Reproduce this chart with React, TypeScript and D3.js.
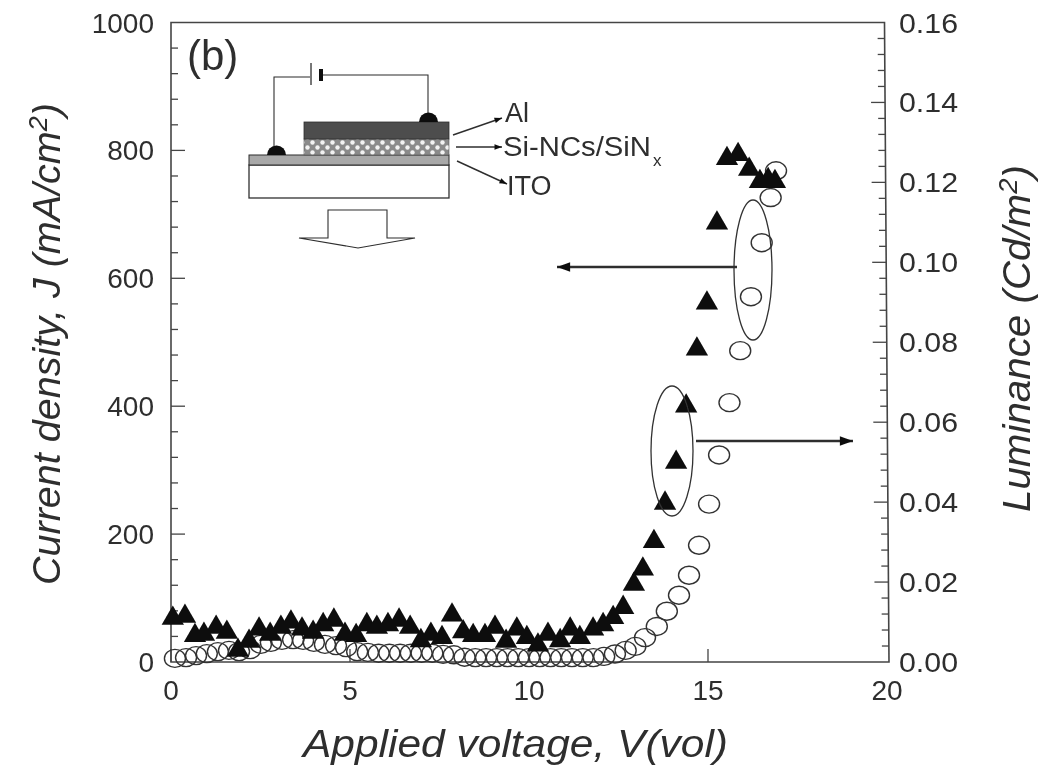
import React from 'react'
import * as d3 from 'd3'

// current density J (triangles)
const triVolt = [0.05, 0.39, 0.67, 0.92, 1.26, 1.56, 1.87, 2.18, 2.46, 2.77, 3.07, 3.35, 3.66, 3.97, 4.25, 4.55, 4.86, 5.17, 5.47, 5.75, 6.06, 6.37, 6.68, 6.98, 7.26, 7.57, 7.85, 8.16, 8.44, 8.77, 9.05, 9.36, 9.66, 9.94, 10.25, 10.53, 10.87, 11.15, 11.42, 11.79, 12.07, 12.35, 12.63, 12.93, 13.18, 13.49, 13.8, 14.11, 14.39, 14.69, 14.97, 15.25, 15.53, 15.84, 16.15, 16.45, 16.68, 16.87]
const triJ = [73, 76, 46, 48, 59, 51, 23, 37, 56, 48, 59, 67, 56, 51, 63, 70, 48, 46, 63, 59, 63, 70, 59, 38, 48, 43, 78, 52, 46, 46, 59, 37, 56, 43, 31, 48, 38, 56, 43, 56, 63, 74, 90, 126, 150, 193, 253, 317, 405, 494, 566, 691, 792, 798, 775, 756, 759, 756]

// luminance (open circles)
const circVolt = [0.11, 0.42, 0.7, 1.0, 1.31, 1.62, 1.9, 2.21, 2.51, 2.79, 3.1, 3.41, 3.69, 3.99, 4.3, 4.61, 4.89, 5.2, 5.5, 5.8, 6.1, 6.4, 6.7, 7.0, 7.3, 7.6, 7.9, 8.2, 8.5, 8.8, 9.1, 9.4, 9.7, 10.0, 10.3, 10.6, 10.9, 11.2, 11.5, 11.8, 12.1, 12.4, 12.7, 12.97, 13.24, 13.57, 13.85, 14.19, 14.47, 14.75, 15.03, 15.31, 15.6, 15.9, 16.2, 16.5, 16.75, 16.9]
const circL = [0.0009, 0.0011, 0.0016, 0.0021, 0.0026, 0.0029, 0.0026, 0.0031, 0.0044, 0.0049, 0.0054, 0.0056, 0.0054, 0.0049, 0.0044, 0.0041, 0.0036, 0.0026, 0.0024, 0.0022, 0.0022, 0.0022, 0.0022, 0.0022, 0.0022, 0.0019, 0.0018, 0.0012, 0.0011, 0.0011, 0.0011, 0.0011, 0.0011, 0.0011, 0.0011, 0.0011, 0.0011, 0.0011, 0.0011, 0.0011, 0.0014, 0.002, 0.0029, 0.0039, 0.0061, 0.0089, 0.0127, 0.0167, 0.0217, 0.0292, 0.0395, 0.0518, 0.0649, 0.0779, 0.0914, 0.1049, 0.1162, 0.1229]

const xTicks = [0, 5, 10, 15, 20]
const jTicks = [0, 200, 400, 600, 800, 1000]
const lumTicks = [0, 0.02, 0.04, 0.06, 0.08, 0.1, 0.12, 0.14, 0.16]

const width = 1040
const height = 768
const left = 171
const right = 887
const top = 22.5
const bottom = 662

const x = d3.scaleLinear().domain([0, 20]).range([left, right])
const yJ = d3.scaleLinear().domain([0, 1000]).range([bottom, top])
const yL = d3.scaleLinear().domain([0, 0.16]).range([bottom, top])

// the scanned page is a little skewed, right axis leans outwards to the bottom
const rightX = (py: number) => 884.5 + ((py - top) / (bottom - top)) * 4.5

const ink = '#2e2e2e'
const sans = '"Liberation Sans", Arial, sans-serif'
const triPath = d3.symbol(d3.symbolTriangle, 215)()

function Arrow({ x1, y1, x2, y2, w = 1.4, head = 8 }: any) {
  const a = Math.atan2(y2 - y1, x2 - x1)
  const pts = [
    [x2, y2],
    [x2 - head * Math.cos(a - 0.35), y2 - head * Math.sin(a - 0.35)],
    [x2 - head * Math.cos(a + 0.35), y2 - head * Math.sin(a + 0.35)],
  ]
  return (
    <g>
      <line x1={x1} y1={y1} x2={x2} y2={y2} stroke={ink} strokeWidth={w} />
      <polygon points={pts.join(' ')} fill="#111" />
    </g>
  )
}

function Inset() {
  return (
    <g fontFamily={sans} fill={ink}>
      <defs>
        <pattern id="hatch" width="10" height="10" patternUnits="userSpaceOnUse">
          <rect width="10" height="10" fill="#8a8a8a" />
          <circle cx="2.5" cy="2.5" r="2.2" fill="#f2f2f2" />
          <circle cx="7.5" cy="7.5" r="2.2" fill="#f2f2f2" />
        </pattern>
      </defs>
      <rect x="249" y="165" width="200" height="33" fill="#fff" stroke={ink} strokeWidth="1.3" />
      <rect x="249" y="155" width="200" height="10" fill="#a8a8a8" stroke={ink} strokeWidth="1" />
      <rect x="304" y="139" width="145" height="16" fill="url(#hatch)" stroke="#555" strokeWidth="0.6" />
      <rect x="304" y="122" width="145" height="17" fill="#4d4d4d" stroke={ink} strokeWidth="0.8" />
      <path d="M274,146V77H310" fill="none" stroke={ink} strokeWidth="1.1" />
      <path d="M321,75H428V113" fill="none" stroke={ink} strokeWidth="1.1" />
      <line x1="311" y1="63" x2="311" y2="85" stroke={ink} strokeWidth="1.3" />
      <line x1="321" y1="69" x2="321" y2="81" stroke="#111" strokeWidth="4" />
      <path d="M267,155A9.5,9.5 0 0 1 286,155Z" fill="#0c0c0c" />
      <path d="M419,122A9.5,9.5 0 0 1 438,122Z" fill="#0c0c0c" />
      <path d="M328,238V210H387V238L415,238L358,248L299,238Z" fill="#fff" stroke={ink} strokeWidth="1.1" />
      <Arrow x1={453} y1={135} x2={502} y2={118} />
      <Arrow x1={456} y1={147} x2={502} y2={147} />
      <Arrow x1={457} y1={161} x2={507} y2={184} />
      <text x={505} y={122} fontSize={27}>Al</text>
      <text x={503} y={156} fontSize={27} textLength={148} lengthAdjust="spacingAndGlyphs">Si-NCs/SiN</text>
      <text x={653} y={166} fontSize={17}>x</text>
      <text x={507} y={195} fontSize={27}>ITO</text>
    </g>
  )
}

export default function App() {
  const jMinor = d3.range(0, 1001, 40).filter(v => v % 200 !== 0)
  const lMinor = d3.range(0, 41).map(i => i * 0.004).filter((_, i) => i % 5 !== 0)

  return (
    <svg width={width} height={height} style={{ position: 'absolute', left: 0, top: 0, background: '#fff' }}>
      <defs>
        <filter id="scan" x="0" y="0" width="100%" height="100%">
          <feGaussianBlur stdDeviation="0.5" />
        </filter>
      </defs>
      <g filter="url(#scan)">
        {/* frame */}
        <path
          d={`M${left},${bottom}V${top}H${rightX(top)}L${rightX(bottom)},${bottom}Z`}
          fill="none"
          stroke="#444"
          strokeWidth="1.6"
        />

        {/* ticks */}
        {xTicks.slice(0, -1).map(t => (
          <line key={t} x1={x(t)} x2={x(t)} y1={bottom} y2={bottom - 13} stroke="#444" strokeWidth="1.3" />
        ))}
        {jTicks.slice(1, -1).map(t => (
          <line key={t} x1={left} x2={left + 14} y1={yJ(t)} y2={yJ(t)} stroke="#444" strokeWidth="1.3" />
        ))}
        {jMinor.map(t => (
          <line key={t} x1={left} x2={left + 7} y1={yJ(t)} y2={yJ(t)} stroke="#444" strokeWidth="1.3" />
        ))}
        {lumTicks.slice(1, -1).map(t => (
          <line key={t} x1={rightX(yL(t))} x2={rightX(yL(t)) - 14} y1={yL(t)} y2={yL(t)} stroke="#444" strokeWidth="1.3" />
        ))}
        {lMinor.map(t => (
          <line key={t} x1={rightX(yL(t))} x2={rightX(yL(t)) - 7} y1={yL(t)} y2={yL(t)} stroke="#444" strokeWidth="1.3" />
        ))}

        {/* tick labels */}
        <g fontFamily={sans} fontSize={28} fill={ink}>
          {xTicks.map(t => (
            <text key={t} x={x(t)} y={700} textAnchor="middle">{t}</text>
          ))}
          {jTicks.map(t => (
            <text key={t} x={154} y={yJ(t) + 10} textAnchor="end">{t}</text>
          ))}
          {lumTicks.map(t => (
            <text key={t} x={899} y={yL(t) + 10} textLength={59} lengthAdjust="spacingAndGlyphs">{t.toFixed(2)}</text>
          ))}
        </g>

        {/* axis titles */}
        <g fontFamily={sans} fontStyle="italic" fill={ink} fontSize={38}>
          <text x={303} y={757} textLength={425} lengthAdjust="spacingAndGlyphs">Applied voltage, V(vol)</text>
          <text transform="translate(60,585) rotate(-90)" textLength={482} lengthAdjust="spacingAndGlyphs">
            Current density, J (mA/cm<tspan dy={-13} fontSize={26}>2</tspan><tspan dy={13}>)</tspan>
          </text>
          <text transform="translate(1030,512) rotate(-90)" textLength={347} lengthAdjust="spacingAndGlyphs">
            Luminance (Cd/m<tspan dy={-13} fontSize={26}>2</tspan><tspan dy={13}>)</tspan>
          </text>
        </g>

        {/* luminance */}
        {circVolt.map((v, i) => (
          <ellipse key={i} cx={x(v)} cy={yL(circL[i])} rx={10.5} ry={9} fill="none" stroke="#333" strokeWidth="1.4" />
        ))}

        {/* current density */}
        {triVolt.map((v, i) => (
          <path key={i} d={triPath as string} transform={`translate(${x(v)},${yJ(triJ[i]) + 3})`} fill="#0a0a0a" />
        ))}

        {/* which-axis ellipses and arrows */}
        <ellipse cx={753} cy={270} rx={19} ry={70} fill="none" stroke="#333" strokeWidth="1.3" />
        <ellipse cx={672} cy={451} rx={21} ry={65} fill="none" stroke="#333" strokeWidth="1.3" />
        <Arrow x1={737} y1={267} x2={557} y2={267} w={2.4} head={14} />
        <Arrow x1={696} y1={441} x2={853} y2={441} w={2.4} head={14} />

        <text x={187} y={70} fontFamily={sans} fontSize={42} fill={ink}>(b)</text>
        <Inset />
      </g>
    </svg>
  )
}
